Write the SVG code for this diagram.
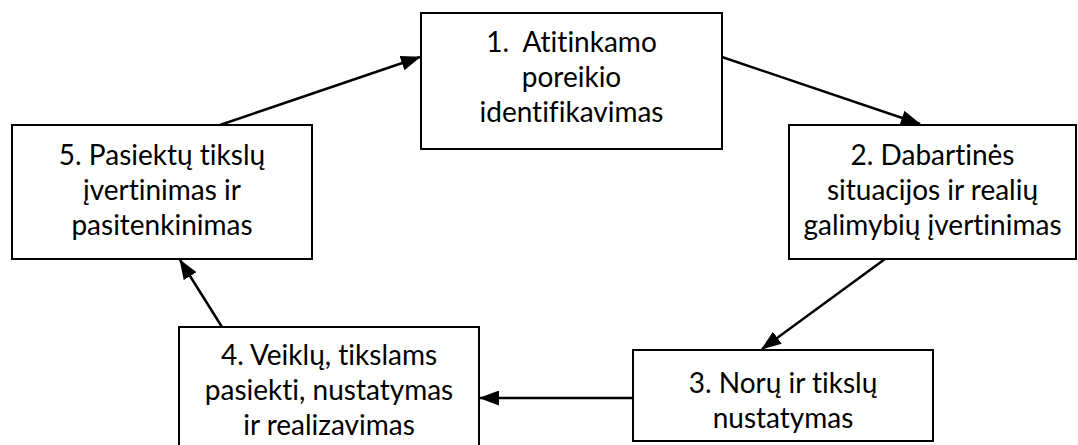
<svg xmlns="http://www.w3.org/2000/svg" width="1078" height="445" viewBox="0 0 1078 445">
<style>
.box{fill:#fff;stroke:#000;stroke-width:2}
.lbl{font-family:Lato,"Open Sans","Liberation Sans",sans-serif;font-size:28px;fill:#000;text-anchor:middle;white-space:pre;font-variant-ligatures:none;font-feature-settings:"liga" 0}
.con{stroke:#000;stroke-width:2.5;fill:none}
</style>
<defs>
<marker id="ah" viewBox="0 0 20 15" refX="19" refY="7.5" markerWidth="20" markerHeight="15" markerUnits="userSpaceOnUse" orient="auto">
<path d="M0,0 L20,7.5 L0,15 z" fill="#000"/>
</marker>
</defs>
<rect width="1078" height="445" fill="#fff"/>
<g id="connectors">
<line class="con" x1="220" y1="125" x2="420" y2="57" marker-end="url(#ah)"/>
<line class="con" x1="722" y1="57" x2="920" y2="124" marker-end="url(#ah)"/>
<line class="con" x1="885" y1="259" x2="762" y2="349" marker-end="url(#ah)"/>
<line class="con" x1="633" y1="398" x2="480" y2="398" marker-end="url(#ah)"/>
<line class="con" x1="222" y1="327" x2="180" y2="260" marker-end="url(#ah)"/>
</g>
<g id="node1">
<rect class="box" x="421" y="13" width="301" height="136"/>
<text class="lbl" x="571.5" y="52">1.  Atitinkamo</text>
<text class="lbl" x="571.5" y="87">poreikio</text>
<text class="lbl" x="571.5" y="122">identifikavimas</text>
</g>
<g id="node2">
<rect class="box" x="789" y="125" width="287" height="134"/>
<text class="lbl" x="932.5" y="165">2. Dabartinės</text>
<text class="lbl" x="932.5" y="200">situacijos ir realių</text>
<text class="lbl" x="932.5" y="235">galimybių įvertinimas</text>
</g>
<g id="node3">
<rect class="box" x="633" y="350" width="300" height="91"/>
<text class="lbl" x="783" y="393">3. Norų ir tikslų</text>
<text class="lbl" x="783" y="428">nustatymas</text>
</g>
<g id="node4">
<rect class="box" x="179" y="327" width="300" height="130"/>
<text class="lbl" x="329" y="365">4. Veiklų, tikslams</text>
<text class="lbl" x="329" y="400">pasiekti, nustatymas</text>
<text class="lbl" x="329" y="435">ir realizavimas</text>
</g>
<g id="node5">
<rect class="box" x="12" y="125" width="300" height="134"/>
<text class="lbl" x="162" y="165">5. Pasiektų tikslų</text>
<text class="lbl" x="162" y="200">įvertinimas ir</text>
<text class="lbl" x="162" y="235">pasitenkinimas</text>
</g>
</svg>
